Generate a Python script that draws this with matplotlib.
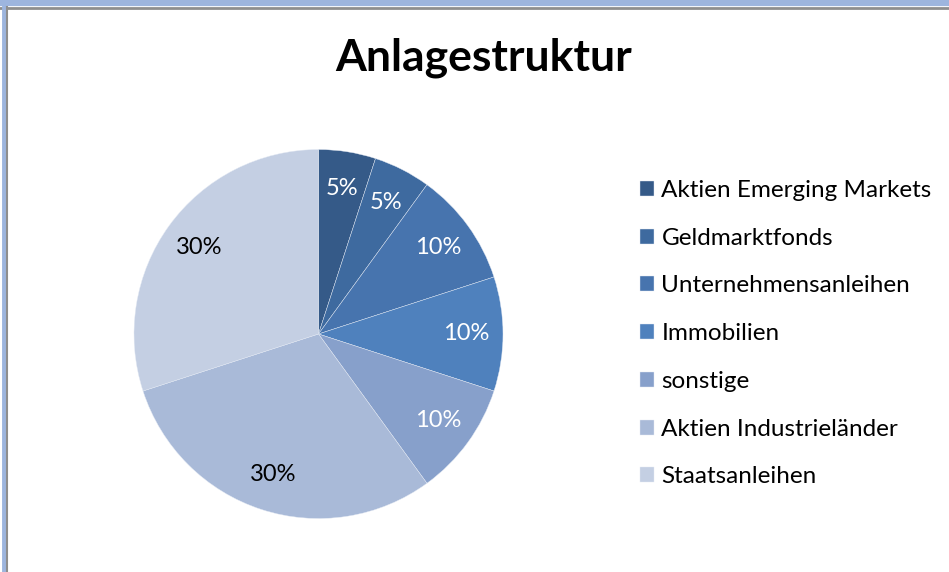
import matplotlib
matplotlib.use("Agg")
import matplotlib.pyplot as plt
from matplotlib.lines import Line2D

plt.rcParams['font.family'] = ['Lato', 'DejaVu Sans']

categories = ["Aktien Emerging Markets", "Geldmarktfonds", "Unternehmensanleihen",
              "Immobilien", "sonstige", "Aktien Industrieländer", "Staatsanleihen"]
shares = [5, 5, 10, 10, 10, 30, 30]
colors = ["#355A88", "#3E6A9F", "#4774AE", "#4F81BD", "#87A0CB", "#A9BAD8", "#C4CFE3"]
label_colors = ["white", "white", "white", "white", "white", "black", "black"]

W, H = 949, 572
fig = plt.figure(figsize=(W / 100, H / 100), dpi=100)

# pie axes placed in pixel terms: center (318.5, 334), radius 184.5
cx, cy, r = 318.5, 334, 184.5
ax = fig.add_axes([(cx - r) / W, (H - cy - r) / H, 2 * r / W, 2 * r / H])
wedges, texts, autotexts = ax.pie(
    shares, colors=colors, startangle=90, counterclock=False,
    autopct='%d%%', pctdistance=0.8, radius=1,
    wedgeprops=dict(edgecolor='#E4EAF4', linewidth=0.3),
    textprops=dict(fontsize=17))
for t, c in zip(autotexts, label_colors):
    t.set_color(c)
ax.set_xlim(-1, 1)
ax.set_ylim(-1, 1)
ax.set_aspect('equal')

fig.text(484 / W, 1 - 58 / H, "Anlagestruktur", ha='center', va='center',
         fontsize=32, fontweight='bold')

fig.legend(wedges, categories, loc='upper left', bbox_to_anchor=(640 / W, 1 - 180 / H),
           frameon=False, fontsize=17.5, handlelength=0.58, handleheight=0.58,
           handletextpad=0.3, labelspacing=1.1, borderpad=0, borderaxespad=0)

# window-like frame at top and left
fig.add_artist(Line2D([0, 1], [1 - 3 / H, 1 - 3 / H], color="#9DB5DE", lw=4.5))
fig.add_artist(Line2D([0, 1], [1 - 7.5 / H, 1 - 7.5 / H], color="#8E8E8E", lw=2))
fig.add_artist(Line2D([3.5 / W, 3.5 / W], [0, 1], color="#9DB5DE", lw=3.5))
fig.add_artist(Line2D([7 / W, 7 / W], [0, 1 - 7 / H], color="#8E8E8E", lw=1.5))

fig.savefig("out.png", dpi=100)
